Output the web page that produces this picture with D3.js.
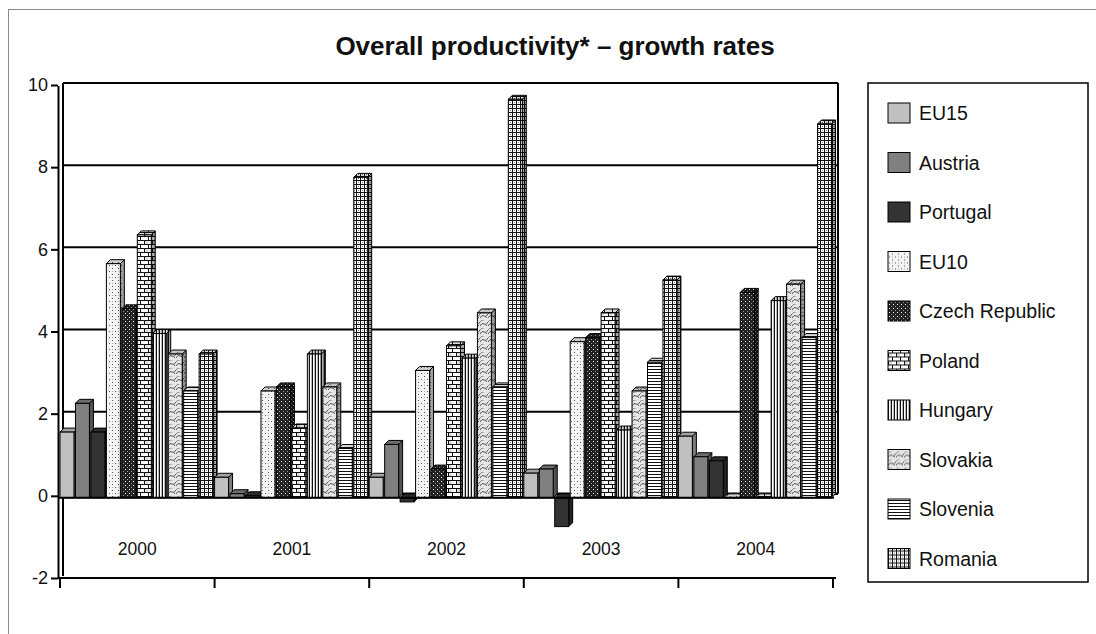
<!DOCTYPE html>
<html>
<head>
<meta charset="utf-8">
<script src="https://cdn.jsdelivr.net/npm/d3@7"></script>
<style>
  html, body { margin: 0; padding: 0; background: #fff; }
  svg { display: block; font-family: Arial, "Liberation Sans", sans-serif; }
</style>
</head>
<body>
<svg id="chart" width="1096" height="634"></svg>
<script>
// Overall productivity growth rates by year (per cent)
const years = ["2000", "2001", "2002", "2003", "2004"];
const seriesNames = ["EU15", "Austria", "Portugal", "EU10", "Czech Republic",
                     "Poland", "Hungary", "Slovakia", "Slovenia", "Romania"];
const EU15         = [1.6, 0.5, 0.5, 0.6, 1.5];
const Austria      = [2.3, 0.1, 1.3, 0.7, 1.0];
const Portugal     = [1.6, 0.05, -0.1, -0.7, 0.9];
const EU10         = [5.7, 2.6, 3.1, 3.8, 0.0];
const CzechRep     = [4.6, 2.7, 0.7, 3.9, 5.0];
const Poland       = [6.4, 1.7, 3.7, 4.5, 0.0];
const Hungary      = [4.0, 3.5, 3.4, 1.65, 4.8];
const Slovakia     = [3.5, 2.7, 4.5, 2.6, 5.2];
const Slovenia     = [2.6, 1.2, 2.7, 3.3, 3.9];
const Romania      = [3.5, 7.8, 9.7, 5.3, 9.1];
const seriesValues = [EU15, Austria, Portugal, EU10, CzechRep,
                      Poland, Hungary, Slovakia, Slovenia, Romania];
const yTicks = [-2, 0, 2, 4, 6, 8, 10];
const title = "Overall productivity* \u2013 growth rates";

const svg = d3.select("#chart");

// ---- fill patterns for the series ----
const defs = svg.append("defs");
function pat(id, w, h, draw, bg) {
  const p = defs.append("pattern").attr("id", id).attr("patternUnits", "userSpaceOnUse")
    .attr("width", w).attr("height", h);
  p.append("rect").attr("width", w).attr("height", h).attr("fill", bg);
  draw(p);
}
pat("p0", 4, 4, () => {}, "#c0c0c0");
pat("p1", 4, 4, () => {}, "#808080");
pat("p2", 4, 4, () => {}, "#333333");
pat("p3", 6, 6, p => {
  p.append("rect").attr("x", 1).attr("y", 1).attr("width", 1).attr("height", 1).attr("fill", "#555");
  p.append("rect").attr("x", 4).attr("y", 4).attr("width", 1).attr("height", 1).attr("fill", "#555");
  p.append("rect").attr("x", 4).attr("y", 1).attr("width", 1).attr("height", 1).attr("fill", "#aaa");
}, "#f4f4f4");
pat("p4", 4, 4, p => {
  p.append("rect").attr("x", 1).attr("y", 1).attr("width", 1).attr("height", 1).attr("fill", "#fff");
  p.append("rect").attr("x", 3).attr("y", 3).attr("width", 1).attr("height", 1).attr("fill", "#999");
}, "#222");
pat("p5", 8, 8, p => {
  p.append("rect").attr("x", 0).attr("y", 0).attr("width", 8).attr("height", 1).attr("fill", "#111");
  p.append("rect").attr("x", 0).attr("y", 4).attr("width", 8).attr("height", 1).attr("fill", "#111");
  p.append("rect").attr("x", 0).attr("y", 0).attr("width", 1).attr("height", 4).attr("fill", "#111");
  p.append("rect").attr("x", 4).attr("y", 4).attr("width", 1).attr("height", 4).attr("fill", "#111");
  p.append("rect").attr("x", 1).attr("y", 1).attr("width", 3).attr("height", 3).attr("fill", "#ddd");
}, "#fff");
pat("p6", 3, 3, p => {
  p.append("rect").attr("x", 0).attr("y", 0).attr("width", 1).attr("height", 3).attr("fill", "#111");
  p.append("rect").attr("x", 2).attr("y", 0).attr("width", 1).attr("height", 3).attr("fill", "#bbb");
}, "#fff");
pat("p7", 8, 8, p => {
  p.append("path").attr("d", "M0,6 Q2,2 4,4 T8,2").attr("fill", "none").attr("stroke", "#555").attr("stroke-width", 1);
  p.append("path").attr("d", "M0,2 Q2,-1 4,0").attr("fill", "none").attr("stroke", "#888").attr("stroke-width", 1);
  p.append("rect").attr("x", 6).attr("y", 5).attr("width", 1).attr("height", 1).attr("fill", "#666");
}, "#e6e6e6");
pat("p8", 3, 3, p => {
  p.append("rect").attr("x", 0).attr("y", 0).attr("width", 3).attr("height", 1).attr("fill", "#111");
}, "#fff");
pat("p9", 4, 4, p => {
  p.append("rect").attr("x", 0).attr("y", 0).attr("width", 4).attr("height", 1).attr("fill", "#111");
  p.append("rect").attr("x", 0).attr("y", 0).attr("width", 1).attr("height", 4).attr("fill", "#111");
  p.append("rect").attr("x", 2).attr("y", 2).attr("width", 1).attr("height", 1).attr("fill", "#888");
}, "#fff");

// ---- outer chart frame ----
svg.append("rect").attr("x", 8.5).attr("y", 9.5).attr("width", 1100).attr("height", 640)
  .attr("fill", "none").attr("stroke", "#8a8a8a").attr("stroke-width", 1);

// ---- title ----
svg.append("text").attr("x", 555).attr("y", 55).attr("text-anchor", "middle")
  .attr("font-size", 26).attr("font-weight", "bold").attr("fill", "#111").text(title);

// ---- scales ----
const dx = 4, dy = 4;
const x0 = d3.scaleBand().domain(years).range([60, 833]).padding(0);
const x1 = d3.scaleBand().domain(seriesNames).range([0, x0.bandwidth()]).padding(0);
const y = d3.scaleLinear().domain([-2, 10]).range([576, 83]);

const plot = svg.append("g");

// back wall gridlines
plot.selectAll("line.grid").data(yTicks.filter(t => t > -2)).join("line")
  .attr("class", "grid")
  .attr("x1", 63).attr("x2", 838)
  .attr("y1", d => y(d)).attr("y2", d => y(d))
  .attr("stroke", "#000").attr("stroke-width", d => d === 0 ? 2.5 : 2);
// right edge of the wall
plot.append("line").attr("x1", 838).attr("x2", 838).attr("y1", y(10)).attr("y2", y(0))
  .attr("stroke", "#000").attr("stroke-width", 2);

// left side wall (value axis)
plot.append("line").attr("x1", 58.5).attr("x2", 58.5).attr("y1", y(10) + 3).attr("y2", y(-2) + 2)
  .attr("stroke", "#000").attr("stroke-width", 2);
plot.append("line").attr("x1", 63).attr("x2", 63).attr("y1", y(10)).attr("y2", y(-2))
  .attr("stroke", "#000").attr("stroke-width", 2);

// value axis ticks and labels
const yAxis = d3.axisLeft(y).tickValues(yTicks).tickSize(7).tickPadding(3).tickFormat(d => String(d));
const ya = svg.append("g").attr("transform", "translate(58,2)").call(yAxis);
ya.select(".domain").remove();
ya.selectAll(".tick line").attr("stroke", "#000").attr("stroke-width", 2);
ya.selectAll(".tick text").attr("font-size", 18).attr("fill", "#111")
  .attr("font-family", "Arial, 'Liberation Sans', sans-serif");

// floor line at the minimum
plot.append("line").attr("x1", 58).attr("x2", 836).attr("y1", y(-2) + 2).attr("y2", y(-2) + 2)
  .attr("stroke", "#000").attr("stroke-width", 2);

// ---- 3D columns ----
const barW = x1.bandwidth() - 1.5;
const bars = [];
years.forEach((yr, i) => {
  seriesNames.forEach((s, j) => {
    bars.push({ year: yr, series: s, idx: j, v: seriesValues[j][i] });
  });
});
const g = plot.selectAll("g.bar").data(bars).join("g").attr("class", "bar");
g.each(function (d) {
  const sel = d3.select(this);
  const xs = x0(d.year) + x1(d.series);
  const top = y(Math.max(d.v, 0)) + dy;
  const bot = y(Math.min(d.v, 0)) + dy;
  const fill = `url(#p${d.idx})`;
  // right side face
  const side = `M${xs + barW},${top}L${xs + barW + dx},${top - dy}L${xs + barW + dx},${bot - dy}L${xs + barW},${bot}Z`;
  sel.append("path").attr("d", side).attr("fill", fill);
  sel.append("path").attr("d", side).attr("fill", "#000").attr("fill-opacity", 0.35)
    .attr("stroke", "#000").attr("stroke-width", 1);
  // top face
  const tp = `M${xs},${top}L${xs + dx},${top - dy}L${xs + barW + dx},${top - dy}L${xs + barW},${top}Z`;
  sel.append("path").attr("d", tp).attr("fill", fill);
  sel.append("path").attr("d", tp).attr("fill", "#000").attr("fill-opacity", 0.15)
    .attr("stroke", "#000").attr("stroke-width", 1);
  // front face
  sel.append("rect").attr("x", xs).attr("y", top).attr("width", barW).attr("height", Math.max(bot - top, 0.01))
    .attr("fill", fill).attr("stroke", "#000").attr("stroke-width", 1);
});

// front zero edge of the floor
plot.append("line").attr("x1", 58).attr("x2", 834).attr("y1", y(0) + dy).attr("y2", y(0) + dy)
  .attr("stroke", "#000").attr("stroke-width", 2);

// category ticks and labels
svg.selectAll("line.ctick").data(d3.range(years.length + 1)).join("line")
  .attr("class", "ctick")
  .attr("x1", i => 60 + i * x0.step()).attr("x2", i => 60 + i * x0.step())
  .attr("y1", y(-2) + 2).attr("y2", y(-2) + 12)
  .attr("stroke", "#000").attr("stroke-width", 2);
svg.selectAll("text.cat").data(years).join("text")
  .attr("class", "cat")
  .attr("x", d => x0(d) + x0.bandwidth() / 2).attr("y", 555)
  .attr("text-anchor", "middle").attr("font-size", 17.5).attr("fill", "#111").text(d => d);

// ---- legend ----
const lg = svg.append("g");
lg.append("rect").attr("x", 868).attr("y", 83).attr("width", 220).attr("height", 499)
  .attr("fill", "#fff").attr("stroke", "#000").attr("stroke-width", 1.5);
const li = lg.selectAll("g.item").data(seriesNames).join("g").attr("class", "item")
  .attr("transform", (d, i) => `translate(888,${113 + i * 49.5})`);
li.append("rect").attr("x", 0).attr("y", -10).attr("width", 22).attr("height", 20)
  .attr("fill", (d, i) => `url(#p${i})`).attr("stroke", "#000").attr("stroke-width", 1);
li.append("text").attr("x", 31).attr("y", 7).attr("font-size", 19.5).attr("fill", "#111").text(d => d);
</script>
</body>
</html>
